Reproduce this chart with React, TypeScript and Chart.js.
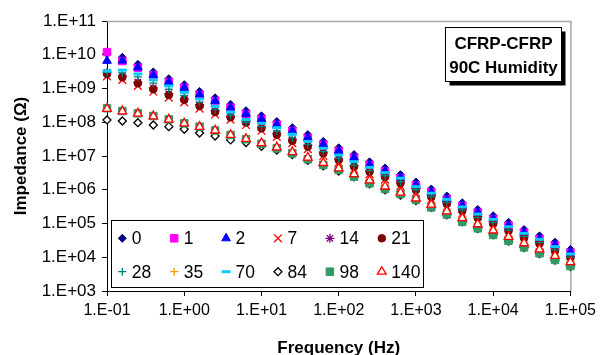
import React, { useEffect, useRef } from 'react';
import { Chart, registerables } from 'chart.js';
import { drawPoint } from 'chart.js/helpers';

Chart.register(...registerables);

const FONT = '"Liberation Sans", Arial, Helvetica, sans-serif';

// ---- data ----
const frequencies = [0.1, 0.158, 0.251, 0.398, 0.631, 1, 1.58, 2.51, 3.98, 6.31, 10, 15.8, 25.1, 39.8, 63.1, 100, 158, 251, 398, 631, 1000, 1580, 2510, 3980, 6310, 10000, 15800, 25100, 39800, 63100, 100000];

const xTickValues = [0.1, 1, 10, 100, 1000, 10000, 100000];
const yTickValues = [1e3, 1e4, 1e5, 1e6, 1e7, 1e8, 1e9, 1e10, 1e11];

const seriesLabels = ['0', '1', '2', '7', '14', '21', '28', '35', '70', '84', '98', '140'];

const s0 = [1.1e10, 8.4e9, 5.2e9, 3.1e9, 1.95e9, 1.3e9, 8.2e8, 5.3e8, 3.4e8, 2.2e8, 1.55e8, 1.05e8, 6.9e7, 4.3e7, 2.7e7, 1.75e7, 1.1e7, 6.7e6, 4.4e6, 2.8e6, 1.7e6, 1.05e6, 6.5e5, 4.1e5, 2.6e5, 1.7e5, 1.08e5, 6.6e4, 4.3e4, 2.8e4, 1.7e4];
const s1 = [1.2e10, 6.5e9, 4.1e9, 2.5e9, 1.55e9, 1.05e9, 6.5e8, 4.2e8, 2.7e8, 1.75e8, 1.25e8, 8.4e7, 5.5e7, 3.4e7, 2.15e7, 1.4e7, 8.8e6, 5.4e6, 3.5e6, 2.2e6, 1.35e6, 8.4e5, 5.2e5, 3.3e5, 2.1e5, 1.35e5, 8.6e4, 5.3e4, 3.4e4, 2.2e4, 1.35e4];
const s2 = [6.6e9, 6.7e9, 4.2e9, 2.5e9, 1.55e9, 1.05e9, 6.6e8, 4.3e8, 2.75e8, 1.78e8, 1.25e8, 8.5e7, 5.6e7, 3.5e7, 2.2e7, 1.42e7, 9.0e6, 5.5e6, 3.6e6, 2.3e6, 1.4e6, 8.6e5, 5.3e5, 3.4e5, 2.15e5, 1.4e5, 8.9e4, 5.4e4, 3.5e4, 2.3e4, 1.4e4];
const s7 = [2.3e9, 1.8e9, 1.2e9, 8.0e8, 5.4e8, 3.9e8, 2.55e8, 1.7e8, 1.2e8, 8.3e7, 5.6e7, 3.7e7, 2.4e7, 1.6e7, 1.0e7, 6.5e6, 4.1e6, 2.9e6, 2.0e6, 1.3e6, 8.3e5, 5.2e5, 3.2e5, 2.0e5, 1.23e5, 8.2e4, 5.1e4, 3.1e4, 2.1e4, 1.3e4, 8.0e3];
const s14 = [3.0e9, 2.4e9, 1.55e9, 1.05e9, 7.0e8, 5.0e8, 3.3e8, 2.2e8, 1.5e8, 1.07e8, 7.2e7, 4.7e7, 3.1e7, 2.1e7, 1.3e7, 8.3e6, 5.3e6, 3.7e6, 2.6e6, 1.7e6, 1.07e6, 6.7e5, 4.2e5, 2.6e5, 1.6e5, 1.06e5, 6.6e4, 4.1e4, 2.7e4, 1.7e4, 1.05e4];
const s21 = [2.7e9, 2.15e9, 1.43e9, 9.5e8, 6.4e8, 4.6e8, 3.0e8, 2.0e8, 1.4e8, 9.8e7, 6.6e7, 4.3e7, 2.8e7, 1.9e7, 1.2e7, 7.6e6, 4.8e6, 3.4e6, 2.4e6, 1.55e6, 9.8e5, 6.1e5, 3.8e5, 2.35e5, 1.45e5, 9.7e4, 6.0e4, 3.7e4, 2.5e4, 1.53e4, 9.5e3];
const s28 = [3.0e9, 2.9e9, 2.2e9, 1.45e9, 9.5e8, 6.2e8, 3.9e8, 2.4e8, 1.6e8, 1.0e8, 7.4e7, 5.5e7, 3.5e7, 2.2e7, 1.35e7, 8.5e6, 5.4e6, 3.7e6, 2.6e6, 1.75e6, 1.0e6, 6.3e5, 4.2e5, 2.5e5, 1.5e5, 1.06e5, 6.4e4, 4.1e4, 2.7e4, 1.65e4, 1.0e4];
const s35 = [2.8e8, 2.5e8, 2.1e8, 1.75e8, 1.4e8, 1.07e8, 8.5e7, 6.6e7, 4.9e7, 3.7e7, 2.7e7, 2.05e7, 1.5e7, 1.0e7, 7.0e6, 4.9e6, 3.2e6, 2.1e6, 1.4e6, 9.3e5, 6.2e5, 4.0e5, 2.5e5, 1.6e5, 1.03e5, 6.7e4, 4.3e4, 2.8e4, 1.8e4, 1.2e4, 7.8e3];
const s70 = [3.3e9, 3.5e9, 2.7e9, 1.8e9, 1.19e9, 7.7e8, 4.9e8, 3.0e8, 2.0e8, 1.2e8, 9.3e7, 6.9e7, 4.4e7, 2.7e7, 1.7e7, 1.07e7, 6.8e6, 4.6e6, 3.2e6, 2.2e6, 1.23e6, 7.9e5, 5.2e5, 3.1e5, 1.9e5, 1.33e5, 8.0e4, 5.1e4, 3.4e4, 2.06e4, 1.25e4];
const s84 = [1.17e8, 1.09e8, 9.7e7, 8.3e7, 7.4e7, 6.2e7, 4.8e7, 3.9e7, 3.0e7, 2.5e7, 1.95e7, 1.5e7, 1.1e7, 7.4e6, 5.1e6, 3.6e6, 2.4e6, 1.5e6, 1.0e6, 7.0e5, 4.8e5, 3.0e5, 1.8e5, 1.12e5, 7.1e4, 4.6e4, 3.0e4, 1.95e4, 1.28e4, 8.2e3, 5.4e3];
const s98 = [2.6e8, 2.15e8, 1.84e8, 1.53e8, 1.22e8, 9.3e7, 7.4e7, 5.7e7, 4.2e7, 3.15e7, 2.3e7, 1.69e7, 1.2e7, 8.0e6, 5.4e6, 3.85e6, 2.44e6, 1.55e6, 1.05e6, 7.5e5, 5.0e5, 3.0e5, 1.85e5, 1.13e5, 7.2e4, 4.6e4, 3.1e4, 1.97e4, 1.31e4, 8.3e3, 5.5e3];
const s140 = [2.5e8, 2.1e8, 1.8e8, 1.5e8, 1.2e8, 9.2e7, 7.3e7, 5.7e7, 4.2e7, 3.2e7, 2.4e7, 1.8e7, 1.3e7, 9.0e6, 6.2e6, 4.3e6, 2.9e6, 1.9e6, 1.25e6, 8.2e5, 5.5e5, 3.6e5, 2.3e5, 1.45e5, 9.5e4, 6.2e4, 4.0e4, 2.6e4, 1.7e4, 1.1e4, 7.2e3];

const seriesValues = [s0, s1, s2, s7, s14, s21, s28, s35, s70, s84, s98, s140];

const annotationLines = ['CFRP-CFRP', '90C Humidity'];

// ---- marker styles ----
const markerStyles = [
  { style: 'rectRot', stroke: '#000080', fill: '#000080', r: 4, bw: 1 },
  { style: 'rect', stroke: '#FF00FF', fill: '#FF00FF', r: 5.3, bw: 1 },
  { style: 'triangle', stroke: '#0000FF', fill: '#0000FF', r: 5, bw: 1 },
  { style: 'crossRot', stroke: '#FF0000', fill: '#FF0000', r: 5.5, bw: 1.3 },
  { style: 'star', stroke: '#800080', fill: '#800080', r: 4.5, bw: 1.3 },
  { style: 'circle', stroke: '#800000', fill: '#800000', r: 3.8, bw: 1 },
  { style: 'cross', stroke: '#008080', fill: '#008080', r: 4, bw: 1.3 },
  { style: 'cross', stroke: '#FF9900', fill: '#FF9900', r: 4, bw: 1.3 },
  { style: 'line', stroke: '#00CCFF', fill: '#00CCFF', r: 4.5, bw: 3 },
  { style: 'rectRot', stroke: '#000000', fill: '#FFFFFF', r: 4, bw: 1.3 },
  { style: 'rect', stroke: '#339966', fill: '#339966', r: 5.3, bw: 1 },
  { style: 'triangle', stroke: '#FF0000', fill: '#FFFFFF', r: 5, bw: 1.3 },
];

const fmtExp = (v: number) => {
  const e = Math.round(Math.log10(v));
  const sign = e < 0 ? '-' : '+';
  const a = Math.abs(e);
  return '1.E' + sign + (a < 10 ? '0' + a : String(a));
};

const decorPlugin = {
  id: 'decor',
  beforeDatasetsDraw(chart: any) {
    const { ctx, chartArea } = chart;
    ctx.save();
    ctx.strokeStyle = '#A6A6A6';
    ctx.lineWidth = 1.5;
    ctx.beginPath();
    ctx.moveTo(chartArea.left, chartArea.top + 0.5);
    ctx.lineTo(chartArea.right + 0.5, chartArea.top + 0.5);
    ctx.lineTo(chartArea.right + 0.5, chartArea.bottom);
    ctx.stroke();
    ctx.restore();
  },
  afterDatasetsDraw(chart: any) {
    const { ctx } = chart;
    ctx.save();
    // legend box
    const lx = 111.5, ly = 220.5, lw = 312, lh = 67;
    ctx.fillStyle = '#FFFFFF';
    ctx.fillRect(lx, ly, lw, lh);
    ctx.strokeStyle = '#000000';
    ctx.lineWidth = 1;
    ctx.strokeRect(lx, ly, lw, lh);
    chart.data.datasets.forEach((ds: any, i: number) => {
      const col = i % 6;
      const row = Math.floor(i / 6);
      const mx = 122.3 + col * 51.9;
      const my = row === 0 ? 238.3 : 271.7;
      const m = markerStyles[i];
      ctx.save();
      ctx.fillStyle = m.fill;
      ctx.strokeStyle = m.stroke;
      ctx.lineWidth = m.bw;
      drawPoint(ctx, { pointStyle: m.style, radius: m.r, rotation: 0, borderWidth: m.bw } as any, mx, my);
      ctx.restore();
      ctx.fillStyle = '#000000';
      ctx.font = `17.5px ${FONT}`;
      ctx.textBaseline = 'middle';
      ctx.textAlign = 'left';
      ctx.fillText(ds.label, mx + 9.5, my + 1);
    });
    // annotation box
    const ax = 445.5, ay = 27.5, aw = 116, ah = 54;
    ctx.fillStyle = '#000000';
    ctx.fillRect(ax + 4, ay + 4, aw, ah);
    ctx.fillStyle = '#FFFFFF';
    ctx.fillRect(ax, ay, aw, ah);
    ctx.strokeStyle = '#000000';
    ctx.lineWidth = 1;
    ctx.strokeRect(ax, ay, aw, ah);
    ctx.fillStyle = '#000000';
    ctx.font = `bold 17px ${FONT}`;
    ctx.textAlign = 'center';
    ctx.textBaseline = 'middle';
    ctx.fillText(annotationLines[0], ax + aw / 2, 44);
    ctx.fillText(annotationLines[1], ax + aw / 2, 68);
    ctx.restore();
  },
};

export default function App() {
  const ref = useRef<HTMLCanvasElement>(null);
  useEffect(() => {
    if (!ref.current) return;
    const datasets = seriesLabels.map((label, i) => {
      const m = markerStyles[i];
      return {
        label,
        data: frequencies.map((f, j) => ({ x: f, y: seriesValues[i][j] })),
        showLine: false,
        pointStyle: m.style,
        pointRadius: m.r,
        pointHoverRadius: m.r,
        pointBackgroundColor: m.fill,
        pointBorderColor: m.stroke,
        pointBorderWidth: m.bw,
        backgroundColor: m.fill,
        borderColor: m.stroke,
        order: -i,
        clip: false as any,
      };
    });
    const chart = new Chart(ref.current, {
      type: 'scatter',
      data: { datasets },
      options: {
        animation: false,
        responsive: false,
        events: [],
        layout: { padding: { left: 0, top: 21, right: 28, bottom: 0 } },
        plugins: { legend: { display: false }, tooltip: { enabled: false } },
        scales: {
          x: {
            type: 'logarithmic',
            min: 0.1,
            max: 100000,
            afterFit: (s: any) => { s.height = 64; },
            afterBuildTicks: (s: any) => { s.ticks = xTickValues.map((v) => ({ value: v })); },
            ticks: {
              callback: (v: any) => fmtExp(Number(v)),
              font: { family: FONT, size: 16 },
              color: '#000',
              maxRotation: 0,
              autoSkip: false,
              padding: 5,
            },
            grid: { drawOnChartArea: false, drawTicks: true, tickLength: 5, color: '#000', lineWidth: 1 },
            border: { display: true, color: '#000', width: 1 },
            title: {
              display: true,
              text: 'Frequency (Hz)',
              color: '#000',
              font: { family: FONT, size: 17, weight: 'bold', lineHeight: 0.8 },
              padding: { top: 0, bottom: 0 },
            },
          },
          y: {
            type: 'logarithmic',
            min: 1e3,
            max: 1e11,
            afterFit: (s: any) => { s.width = 107; },
            afterBuildTicks: (s: any) => { s.ticks = yTickValues.map((v) => ({ value: v })); },
            ticks: {
              callback: (v: any) => fmtExp(Number(v)),
              font: { family: FONT, size: 17 },
              color: '#000',
              autoSkip: false,
              padding: 6,
            },
            grid: { drawOnChartArea: false, drawTicks: true, tickLength: 5, color: '#000', lineWidth: 1 },
            border: { display: true, color: '#000', width: 1 },
            title: {
              display: true,
              text: 'Impedance (Ω)',
              color: '#000',
              font: { family: FONT, size: 17, weight: 'bold', lineHeight: 0.8 },
              padding: { top: 14.7, bottom: 0 },
            },
          },
        },
      } as any,
      plugins: [decorPlugin],
    });
    return () => chart.destroy();
  }, []);
  return (
    <div style={{ position: 'absolute', left: 0, top: 0, width: 601, height: 355 }}>
      <canvas ref={ref} width={601} height={355} style={{ display: 'block' }} />
    </div>
  );
}
